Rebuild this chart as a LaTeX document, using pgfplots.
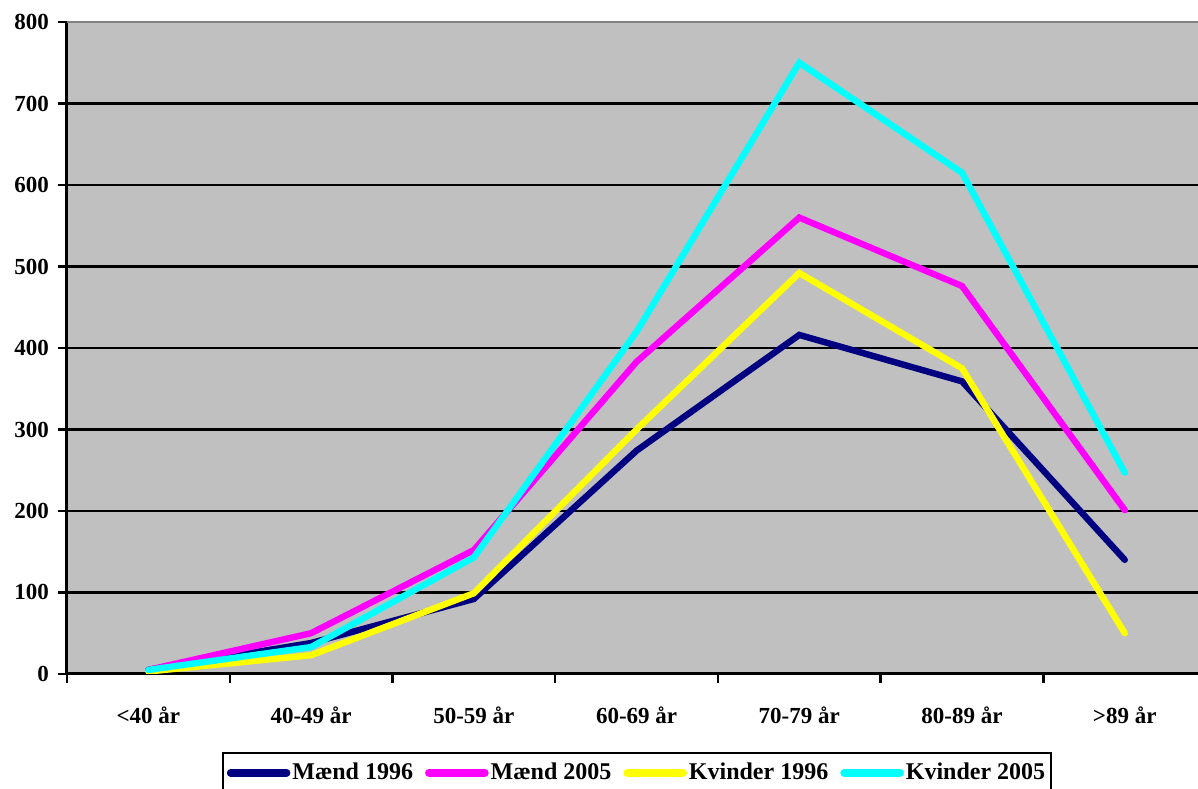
\documentclass[border=0pt]{standalone}
\usepackage{pgfplots}
\pgfplotsset{compat=1.18}
\usepackage{fontspec}
\setmainfont{Liberation Serif}
\definecolor{bgc}{HTML}{C0C0C0}
\definecolor{navyc}{HTML}{000080}
\definecolor{magc}{HTML}{FF00FF}
\definecolor{yelc}{HTML}{FFFF00}
\definecolor{cyac}{HTML}{00FFFF}
\begin{document}
\begin{tikzpicture}
\begin{axis}[
  name=ax,
  scale only axis,
  width=565.5pt, height=326pt,
  xmin=-0.5, xmax=6.45, ymin=0, ymax=800,
  axis background/.style={fill=bgc},
  axis x line*=bottom, axis y line*=left,
  axis line style={black, line width=1.5pt, -},
  tick align=outside,
  major tick length=4.5pt,
  tick style={black, line width=1.2pt},
  xtick={-0.5,0.5,...,5.5}, xticklabels={},
  extra x ticks={0,1,2,3,4,5,6},
  extra x tick labels={<40 år,40-49 år,50-59 år,60-69 år,70-79 år,80-89 år,>89 år},
  extra x tick style={major tick length=0pt, xticklabel style={yshift=-13pt}},
  ytick={0,100,...,700},
  extra y ticks={800},
  extra y tick style={grid style={gray, line width=1pt}},
  ymajorgrids,
  grid style={black, line width=1.2pt},
  tick label style={font=\bfseries\fontsize{11.5}{12}\selectfont},
  /pgf/number format/assume math mode=true,
  yticklabel style={xshift=-1pt},
  legend columns=4,
  legend style={at={(0.504,-0.1196)}, anchor=north, draw=black, line width=1pt,
    fill=white, inner xsep=2pt, inner ysep=3pt,
    font=\bfseries\fontsize{12}{13}\selectfont,
    /tikz/every even column/.append style={column sep=5pt},
    nodes={inner xsep=1pt}},
  legend image code/.code={\draw[#1, line width=3.8pt, line cap=round] (0pt,0pt) -- (28pt,0pt);},
  every axis plot/.append style={line width=3.2pt, line cap=round, line join=miter},
]
\addplot[navyc, mark=none] coordinates {(0,5) (1,38) (2,92) (3,274) (4,416) (5,359) (6,140)};
\addlegendentry{Mænd 1996}
\addplot[magc, mark=none] coordinates {(0,5) (1,50) (2,152) (3,383) (4,560) (5,476) (6,201)};
\addlegendentry{Mænd 2005}
\addplot[yelc, mark=none] coordinates {(0,3) (1,23) (2,99) (3,300) (4,492) (5,375) (6,50)};
\addlegendentry{Kvinder 1996}
\addplot[cyac, mark=none] coordinates {(0,5) (1,33) (2,143) (3,420) (4,750) (5,615) (6,247)};
\addlegendentry{Kvinder 2005}
\end{axis}
\pgfresetboundingbox
\path[use as bounding box] ([xshift=-33.5pt,yshift=-57.5pt]ax.south west) rectangle ([yshift=11pt]ax.north east);
\end{tikzpicture}
\end{document}
